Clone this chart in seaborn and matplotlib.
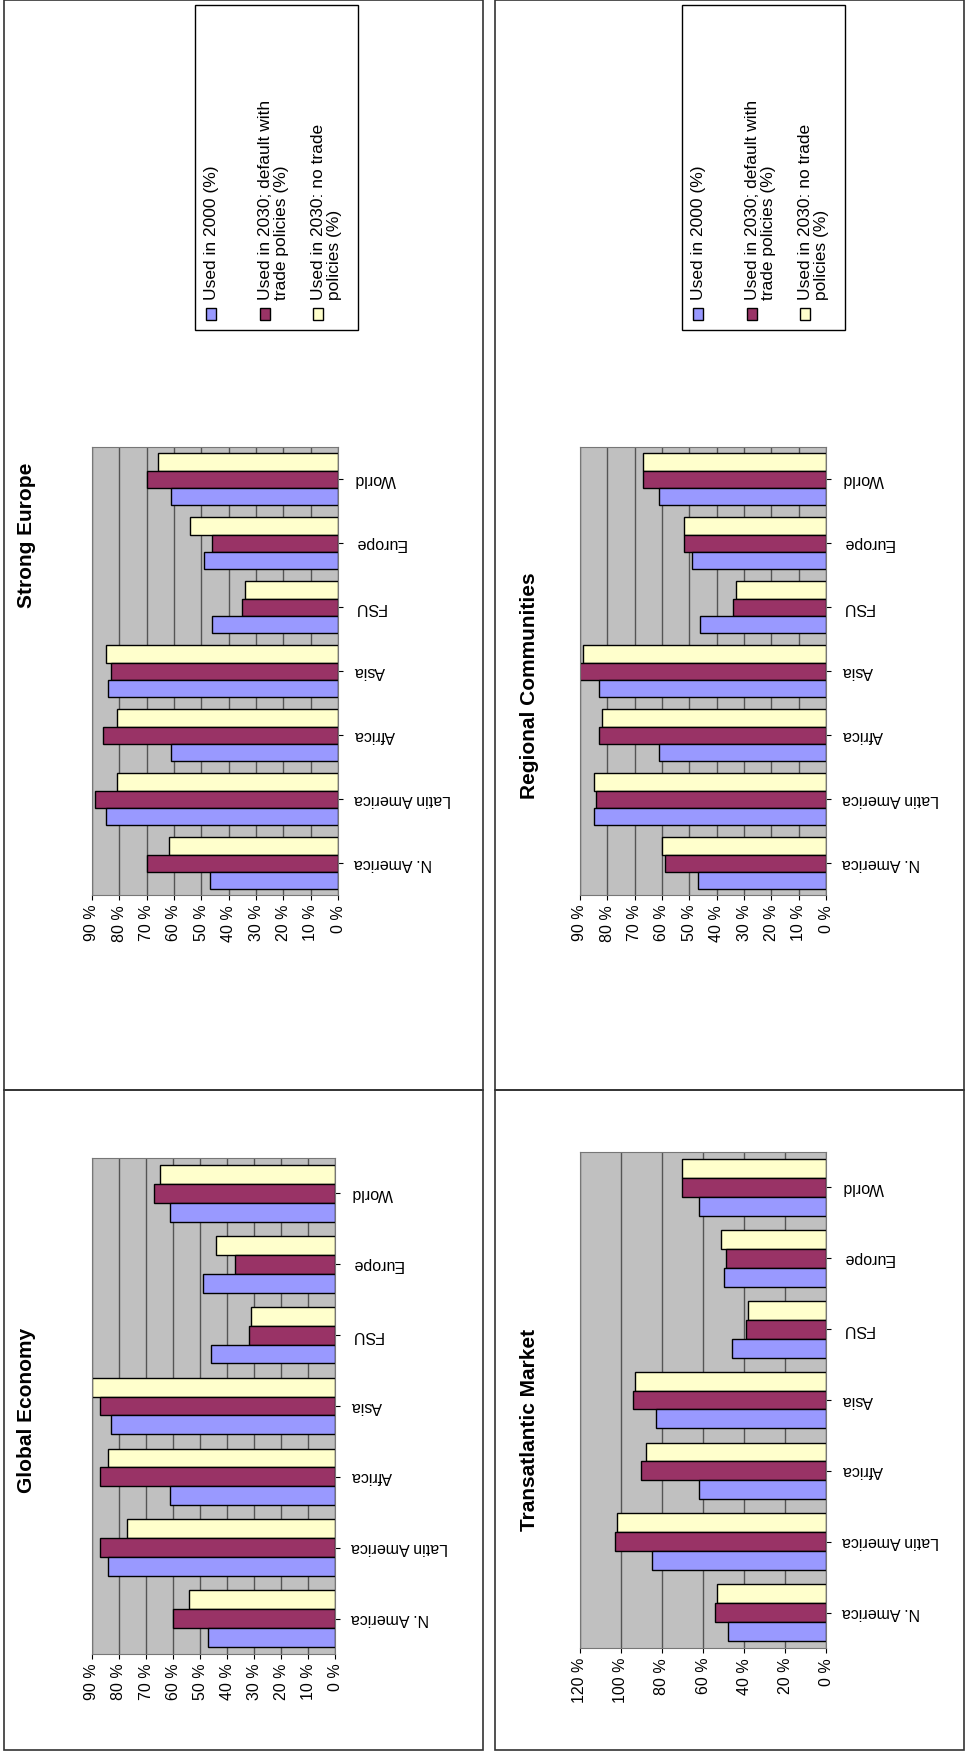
import pandas as pd
import seaborn as sns
import matplotlib.pyplot as plt
from matplotlib.patches import Rectangle

regioes = ['N. America', 'Latin America', 'Africa', 'Asia', 'FSU', 'Europe', 'World']
series = ['Used in 2000 (%)', 'Used in 2030; default with trade policies (%)',
          'Used in 2030: no trade policies (%)']
cores = ['#9999ff', '#993366', '#ffffcc']

strong_2000 = [47, 85, 61, 84, 46, 49, 61]
strong_trade = [70, 89, 86, 83, 35, 46, 70]
strong_notrade = [62, 81, 81, 85, 34, 54, 66]

regional_2000 = [47, 85, 61, 83, 46, 49, 61]
regional_trade = [59, 84, 83, 91, 34, 52, 67]
regional_notrade = [60, 85, 82, 89, 33, 52, 67]

global_2000 = [47, 84, 61, 83, 46, 49, 61]
global_trade = [60, 87, 87, 87, 32, 37, 67]
global_notrade = [54, 77, 84, 90, 31, 44, 65]

trans_2000 = [48, 85, 62, 83, 46, 50, 62]
trans_trade = [54, 103, 90, 94, 39, 49, 70]
trans_notrade = [53, 102, 88, 93, 38, 51, 70]

plt.rcParams['font.family'] = ['Liberation Sans', 'DejaVu Sans']
fig = plt.figure(figsize=(9.65, 17.54), dpi=100)

# molduras dos quatro paineis
for (x, y, w, h) in [(0.004, 0.3786, 0.496, 0.6214), (0.513, 0.3786, 0.486, 0.6214),
                     (0.004, 0.0023, 0.496, 0.3763), (0.513, 0.0023, 0.486, 0.3763)]:
    fig.add_artist(Rectangle((x, y), w, h, transform=fig.transFigure, fill=False,
                             edgecolor='#333333', lw=1.2))


def painel(pos, v2000, vtrade, vnotrade, xmax, passo, titulo, tpos):
    ax = fig.add_axes(pos)
    df = pd.DataFrame({'regiao': regioes * 3,
                       'serie': [series[0]] * 7 + [series[1]] * 7 + [series[2]] * 7,
                       'valor': v2000 + vtrade + vnotrade})
    sns.barplot(data=df, y='regiao', x='valor', hue='serie', orient='h',
                order=regioes[::-1], hue_order=series[::-1], palette=cores[::-1],
                saturation=1, edgecolor='black', linewidth=1.0, width=0.8,
                legend=False, ax=ax)
    ax.set_facecolor('#c0c0c0')
    ax.set_xlim(xmax, 0)
    ticks = list(range(0, xmax + 1, passo))
    ax.set_xticks(ticks)
    ax.set_xticklabels([f'{t} %' for t in ticks], rotation=90, fontsize=11.5)
    ax.grid(axis='x', color='#555555', lw=1)
    ax.set_axisbelow(True)
    ax.yaxis.tick_right()
    ax.set_yticks(range(7))
    ax.set_yticklabels(regioes[::-1], rotation=180, fontsize=11.5, ha='left', va='center')
    ax.tick_params(axis='y', pad=8)
    ax.set_xlabel('')
    ax.set_ylabel('')
    for s in ax.spines.values():
        s.set_color('#777777')
    fig.text(tpos[0], tpos[1], titulo, rotation=90, fontsize=15, fontweight='bold',
             ha='center', va='center')


def legenda(x0):
    fig.add_artist(Rectangle((x0 / 965, 1 - 330 / 1754), 163 / 965, 325 / 1754,
                             transform=fig.transFigure, fill=True, facecolor='white',
                             edgecolor='black', lw=1))
    textos = ['Used in 2000 (%)', 'Used in 2030; default with\ntrade policies (%)',
              'Used in 2030: no trade\npolicies (%)']
    xs = [16, 70, 123]
    for t, c, dx in zip(textos, cores, xs):
        fig.add_artist(Rectangle(((x0 + dx - 5) / 965, 1 - 320 / 1754), 10 / 965, 12 / 1754,
                                 transform=fig.transFigure, facecolor=c,
                                 edgecolor='black', lw=1))
        fig.text((x0 + dx - 7) / 965, 1 - 300 / 1754, t, rotation=90, fontsize=12.5,
                 ha='left', va='bottom', multialignment='left', linespacing=1.05)


painel([0.0953, 0.4897, 0.255, 0.2554], strong_2000, strong_trade, strong_notrade,
       90, 10, 'Strong Europe', (0.027, 0.695))
painel([0.601, 0.4897, 0.255, 0.2554], regional_2000, regional_trade, regional_notrade,
       90, 10, 'Regional Communities', (0.549, 0.609))
painel([0.0953, 0.057, 0.252, 0.2828], global_2000, global_trade, global_notrade,
       90, 10, 'Global Economy', (0.027, 0.196))
painel([0.601, 0.0604, 0.255, 0.2828], trans_2000, trans_trade, trans_notrade,
       120, 20, 'Transatlantic Market', (0.549, 0.185))
legenda(195)
legenda(682)

fig.savefig('out.png', dpi=100)
